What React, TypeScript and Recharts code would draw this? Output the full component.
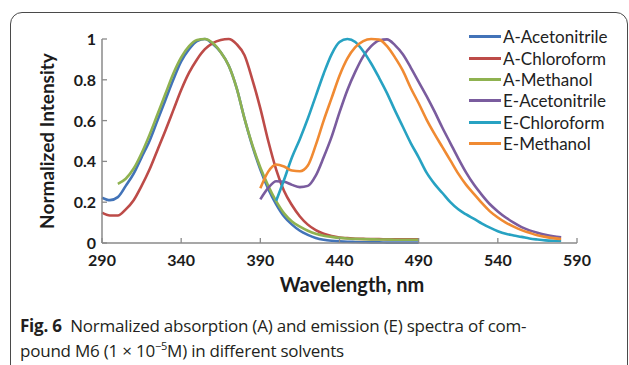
import { Legend, Line, LineChart, XAxis, YAxis } from "recharts";

// absorption spectra (A), normalised
const absWavelengths = [
  290, 295, 300, 305, 310, 315, 320, 325, 330, 335, 340, 345, 350, 355, 360, 365, 370, 375, 380, 385, 390,
  395, 400, 405, 410, 415, 420, 425, 430, 435, 440, 445, 450, 455, 460, 465, 470, 475, 480, 485, 490,
];
const absAcetonitrile = [
  0.222, 0.21, 0.225, 0.28, 0.34, 0.42, 0.5, 0.6, 0.7, 0.8, 0.89, 0.95, 0.99, 1.0, 0.975, 0.935, 0.87, 0.76, 0.61,
  0.475, 0.36, 0.265, 0.19, 0.13, 0.09, 0.06, 0.04, 0.025, 0.016, 0.011, 0.008, 0.006, 0.005, 0.004, 0.003, 0.003,
  0.002, 0.002, 0.002, 0.002, 0.002,
];
const absChloroform = [
  0.149, 0.135, 0.135, 0.165, 0.21, 0.28, 0.36, 0.455, 0.55, 0.65, 0.75, 0.835, 0.9, 0.95, 0.98, 0.995, 1.0, 0.975,
  0.92, 0.8, 0.66, 0.5, 0.36, 0.255, 0.185, 0.13, 0.09, 0.063, 0.045, 0.034, 0.027, 0.024, 0.021, 0.02, 0.019, 0.019,
  0.018, 0.018, 0.018, 0.018, 0.018,
];
const absMethanolWavelengths = [
  300, 305, 310, 315, 320, 325, 330, 335, 340, 345, 350, 355, 360, 365, 370, 375, 380, 385, 390, 395, 400, 405,
  410, 415, 420, 425, 430, 435, 440, 445, 450, 455, 460, 465, 470, 475, 480, 485, 490,
];
const absMethanol = [
  0.29, 0.315, 0.365, 0.44, 0.53, 0.63, 0.73, 0.83, 0.91, 0.965, 0.995, 1.0, 0.98, 0.935, 0.87, 0.76, 0.61, 0.48,
  0.37, 0.28, 0.205, 0.145, 0.105, 0.08, 0.06, 0.045, 0.036, 0.03, 0.025, 0.022, 0.02, 0.019, 0.018, 0.017, 0.017,
  0.016, 0.016, 0.016, 0.016,
];

// emission spectra (E), normalised
const emWavelengths = [
  390, 395, 400, 405, 410, 415, 420, 425, 430, 435, 440, 445, 450, 455, 460, 465, 470, 475, 480, 485, 490, 495,
  500, 505, 510, 515, 520, 525, 530, 535, 540, 545, 550, 555, 560, 565, 570, 575, 580,
];
const emAcetonitrile = [
  0.214, 0.27, 0.303, 0.3, 0.285, 0.274, 0.28, 0.33, 0.42, 0.52, 0.64, 0.75, 0.84, 0.915, 0.965, 0.993, 0.998, 0.97,
  0.925, 0.86, 0.79, 0.72, 0.645, 0.565, 0.49, 0.415, 0.345, 0.285, 0.235, 0.19, 0.155, 0.125, 0.1, 0.078, 0.062,
  0.05, 0.04, 0.033, 0.028,
];
const emMethanol = [
  0.268, 0.35, 0.385, 0.375, 0.355, 0.352, 0.38, 0.48, 0.6, 0.71, 0.82, 0.905, 0.96, 0.99, 1.0, 0.997, 0.965, 0.91,
  0.845, 0.76, 0.685, 0.605, 0.535, 0.47, 0.405, 0.34, 0.285, 0.24, 0.195, 0.155, 0.125, 0.1, 0.08, 0.063, 0.05,
  0.038, 0.03, 0.024, 0.02,
];
const emChloroformWavelengths = [
  400, 405, 410, 415, 420, 425, 430, 435, 440, 445, 450, 455, 460, 465, 470, 475, 480, 485, 490, 495, 500, 505,
  510, 515, 520, 525, 530, 535, 540, 545, 550, 555, 560, 565, 570, 575, 580,
];
const emChloroform = [
  0.207, 0.31, 0.42, 0.51, 0.61, 0.72, 0.83, 0.925, 0.985, 1.0, 0.985, 0.94, 0.88, 0.81, 0.735, 0.65, 0.57, 0.49,
  0.42, 0.345, 0.29, 0.245, 0.2, 0.165, 0.14, 0.118, 0.095, 0.075, 0.058, 0.045, 0.037, 0.03, 0.022, 0.017, 0.013,
  0.011, 0.01,
];

const xTicks = [290, 340, 390, 440, 490, 540, 590];
const yTicks = [0, 0.2, 0.4, 0.6, 0.8, 1];

const toPoints = (wl: number[], values: number[]) => wl.map((x, i) => ({ x, y: values[i] }));

const series = [
  { name: "A-Acetonitrile", color: "#4273b8", data: toPoints(absWavelengths, absAcetonitrile) },
  { name: "A-Chloroform", color: "#bd4b48", data: toPoints(absWavelengths, absChloroform) },
  { name: "A-Methanol", color: "#8fb250", data: toPoints(absMethanolWavelengths, absMethanol) },
  { name: "E-Acetonitrile", color: "#7a5c9e", data: toPoints(emWavelengths, emAcetonitrile) },
  { name: "E-Chloroform", color: "#27a2c2", data: toPoints(emChloroformWavelengths, emChloroform) },
  { name: "E-Methanol", color: "#f08a32", data: toPoints(emWavelengths, emMethanol) },
];

const AXIS = "#8a8a8a";
const FONT = "Lato, 'Open Sans', sans-serif";

function XTick({ x, y, payload }: any) {
  return (
    <g>
      <line x1={x} x2={x} y1={y} y2={y - 5} stroke={AXIS} strokeWidth={1.3} />
      <text x={x} y={y + 23} textAnchor="middle" fontSize={16} fontWeight={700} fill="#1b1b1b" fontFamily={FONT}>
        {payload.value}
      </text>
    </g>
  );
}

function YTick({ x, y, payload }: any) {
  return (
    <g>
      <line x1={x} x2={x + 5} y1={y} y2={y} stroke={AXIS} strokeWidth={1.3} />
      <text x={x - 6} y={y + 6} textAnchor="end" fontSize={16} fontWeight={700} fill="#1b1b1b" fontFamily={FONT}>
        {payload.value}
      </text>
    </g>
  );
}

function LegendBox() {
  return (
    <div style={{ fontFamily: FONT, fontSize: 17, color: "#222" }}>
      {series.map((s) => (
        <div key={s.name} style={{ display: "flex", alignItems: "center", height: 21.4 }}>
          <span style={{ width: 32, height: 3, background: s.color, marginRight: 2 }} />
          <span>{s.name}</span>
        </div>
      ))}
    </div>
  );
}

export default function App() {
  return (
    <div style={{ position: "absolute", left: 0, top: 0, width: 629, height: 365, overflow: "hidden", background: "#fff" }}>
      <div
        style={{
          position: "absolute",
          left: 10,
          top: 12,
          width: 616,
          height: 420,
          border: "1.5px solid #4a4a4a",
          borderRadius: 12,
        }}
      />
      <div style={{ position: "absolute", left: 0, top: 0 }}>
        <LineChart width={629} height={300} margin={{ top: 39, right: 52, bottom: 27, left: 52 }}>
          <XAxis
            type="number"
            dataKey="x"
            domain={[290, 590]}
            ticks={xTicks}
            allowDuplicatedCategory={false}
            stroke={AXIS}
            strokeWidth={1.5}
            tickSize={0}
            tickMargin={0}
            tickLine={false}
            tick={<XTick />}
            height={30}
            interval={0}
          />
          <YAxis
            type="number"
            dataKey="y"
            domain={[0, 1]}
            ticks={yTicks}
            stroke={AXIS}
            strokeWidth={1.5}
            tickSize={0}
            tickMargin={0}
            tickLine={false}
            tick={<YTick />}
            width={50}
            interval={0}
          />
          <Legend
            layout="vertical"
            align="center"
            verticalAlign="middle"
            content={() => <LegendBox />}
            wrapperStyle={{ left: 469, top: 26, width: 160 }}
          />
          {series.map((s) => (
            <Line
              key={s.name}
              data={s.data}
              dataKey="y"
              name={s.name}
              type="monotone"
              stroke={s.color}
              strokeWidth={2.6}
              dot={false}
              activeDot={false}
              isAnimationActive={false}
            />
          ))}
        </LineChart>
      </div>
      <div
        style={{
          position: "absolute",
          left: 46,
          top: 141,
          transform: "translate(-50%, -50%) rotate(-90deg)",
          whiteSpace: "nowrap",
          fontFamily: FONT,
          fontSize: 19,
          fontWeight: 700,
          color: "#1b1b1b",
        }}
      >
        Normalized Intensity
      </div>
      <div
        style={{
          position: "absolute",
          left: 352,
          top: 284,
          transform: "translate(-50%, -50%)",
          whiteSpace: "nowrap",
          fontFamily: FONT,
          fontSize: 20,
          fontWeight: 700,
          color: "#1b1b1b",
        }}
      >
        Wavelength, nm
      </div>
      <div
        style={{
          position: "absolute",
          left: 20,
          top: 313,
          width: 600,
          fontFamily: "'Open Sans', sans-serif",
          fontSize: 17,
          lineHeight: "25px",
          color: "#231f20",
          letterSpacing: -0.22,
        }}
      >
        <div>
          <b>Fig. 6</b>&nbsp; Normalized absorption (A) and emission (E) spectra of com-
        </div>
        <div>
          pound M6 (1 × 10<sup style={{ fontSize: 11, lineHeight: 0 }}>−5</sup>M) in different solvents
        </div>
      </div>
    </div>
  );
}
